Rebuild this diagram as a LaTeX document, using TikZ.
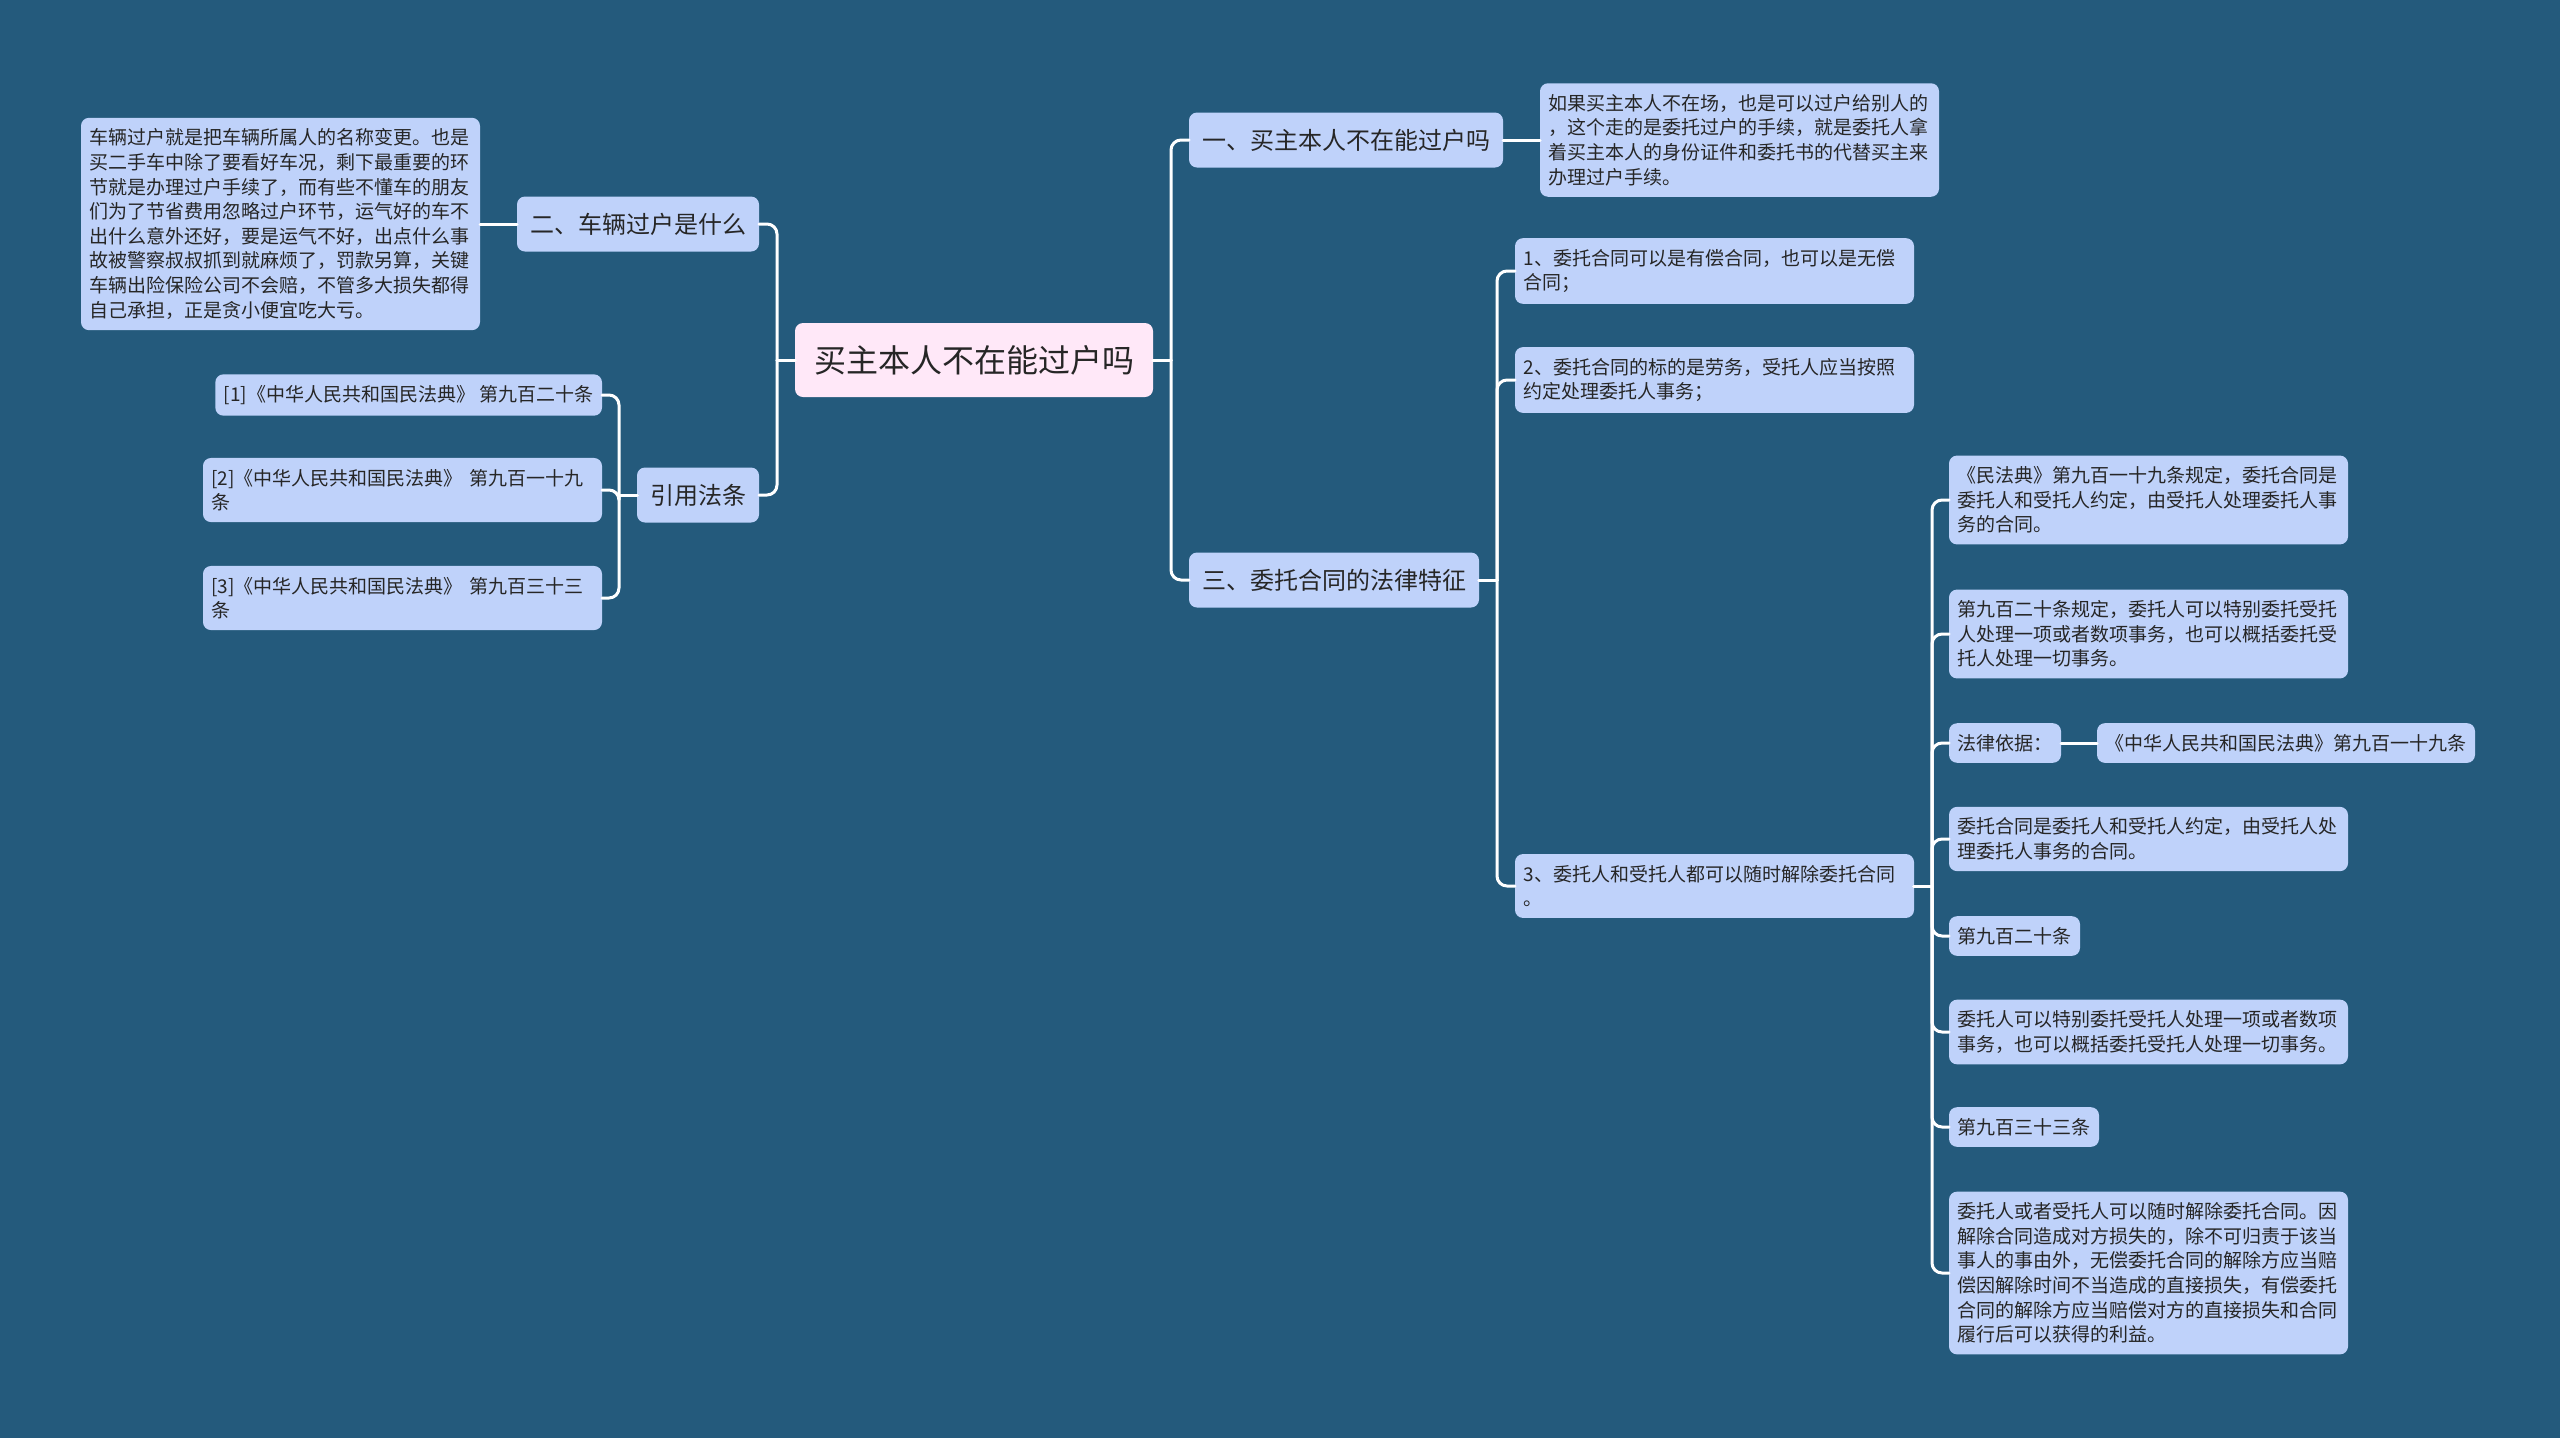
\documentclass[tikz,border=0pt]{standalone}
\usepackage{fontspec}
\setmainfont{Noto Sans CJK SC}
\usepackage{tikz}
\usetikzlibrary{positioning}
\definecolor{mmbg}{HTML}{245A7C}
\definecolor{mmfill}{HTML}{BFD2FA}
\definecolor{mmroot}{HTML}{FFE8F8}
\definecolor{mmtext}{HTML}{262626}
\tikzset{
	mm diagram/.style={
		x=.5pt, y=-.5pt,
		every node/.style={text=mmtext, rounded corners=4pt, outer sep=0pt},
		link/.style={draw=white, line width=1.5pt, line cap=round},
		},
	root/.style={fill=mmroot, font=\fontsize{16pt}{19pt}\selectfont,
		inner xsep=9.5pt, minimum height=37pt},
	topic/.style={fill=mmfill, font=\fontsize{12pt}{14pt}\selectfont,
		inner xsep=6.5pt, minimum height=27.5pt},
	leaf/.style={fill=mmfill, font=\fontsize{9.5pt}{12.3pt}\selectfont,
		inner xsep=4.25pt, inner ysep=5.5pt, align=left},
	wide leaf/.style={leaf, text width=191pt},
}
\newcommand{\mmright}[2]{%
	\draw[link] (#1.east) -- ++(18,0) coordinate (mmj);
	\draw[link, rounded corners=5pt] (mmj) |- (#2.west);}
\newcommand{\mmleft}[2]{%
	\draw[link] (#1.west) -- ++(-18,0) coordinate (mmj);
	\draw[link, rounded corners=5pt] (mmj) |- (#2.east);}

\begin{document}
\begin{tikzpicture}[mm diagram]
  \useasboundingbox (0,0) rectangle (2560,1437);
  \fill[mmbg] (-10,-10) rectangle (2570,1447);

  \node[root] (root) at (974,360) {买主本人不在能过户吗};
  \node[topic, anchor=west] (q1) at (1189,140) {一、买主本人不在能过户吗};
  \node[topic, anchor=west] (q3) at (1189,580) {三、委托合同的法律特征};
  \node[topic, anchor=east] (q2) at (759,224) {二、车辆过户是什么};
  \node[topic, anchor=east] (law) at (759,495) {引用法条};

  \node[wide leaf, anchor=west] (a1) at (1540,140) {如果买主本人不在场，也是可以过户给别人的\\，这个走的是委托过户的手续，就是委托人拿\\着买主本人的身份证件和委托书的代替买主来\\办理过户手续。};
  \node[wide leaf, anchor=east] (b1) at (480,224) {车辆过户就是把车辆所属人的名称变更。也是\\买二手车中除了要看好车况，剩下最重要的环\\节就是办理过户手续了，而有些不懂车的朋友\\们为了节省费用忽略过户环节，运气好的车不\\出什么意外还好，要是运气不好，出点什么事\\故被警察叔叔抓到就麻烦了，罚款另算，关键\\车辆出险保险公司不会赔，不管多大损失都得\\自己承担，正是贪小便宜吃大亏。};

  \node[leaf, anchor=east] (ref1) at (602,395) {[1]《中华人民共和国民法典》 第九百二十条};
  \node[wide leaf, anchor=east] (ref2) at (602,490) {[2]《中华人民共和国民法典》 第九百一十九\\条};
  \node[wide leaf, anchor=east] (ref3) at (602,598) {[3]《中华人民共和国民法典》 第九百三十三\\条};

  \node[wide leaf, anchor=west] (c1) at (1515,271) {1、委托合同可以是有偿合同，也可以是无偿\\合同；};
  \node[wide leaf, anchor=west] (c2) at (1515,380) {2、委托合同的标的是劳务，受托人应当按照\\约定处理委托人事务；};
  \node[wide leaf, anchor=west] (c3) at (1515,886) {3、委托人和受托人都可以随时解除委托合同\\。};

  \node[wide leaf, anchor=west] (d1) at (1949,500) {《民法典》第九百一十九条规定，委托合同是\\委托人和受托人约定，由受托人处理委托人事\\务的合同。};
  \node[wide leaf, anchor=west] (d2) at (1949,634) {第九百二十条规定，委托人可以特别委托受托\\人处理一项或者数项事务，也可以概括委托受\\托人处理一切事务。};
  \node[leaf, anchor=west] (d3) at (1949,743) {法律依据：};
  \node[leaf, right=18pt of d3] (d3a) {《中华人民共和国民法典》第九百一十九条};
  \node[wide leaf, anchor=west] (d4) at (1949,839) {委托合同是委托人和受托人约定，由受托人处\\理委托人事务的合同。};
  \node[leaf, anchor=west] (d5) at (1949,936) {第九百二十条};
  \node[wide leaf, anchor=west] (d6) at (1949,1032) {委托人可以特别委托受托人处理一项或者数项\\事务，也可以概括委托受托人处理一切事务。};
  \node[leaf, anchor=west] (d7) at (1949,1127) {第九百三十三条};
  \node[wide leaf, anchor=west] (d8) at (1949,1273) {委托人或者受托人可以随时解除委托合同。因\\解除合同造成对方损失的，除不可归责于该当\\事人的事由外，无偿委托合同的解除方应当赔\\偿因解除时间不当造成的直接损失，有偿委托\\合同的解除方应当赔偿对方的直接损失和合同\\履行后可以获得的利益。};

  \mmright{root}{q1}
  \mmright{root}{q3}
  \mmleft{root}{q2}
  \mmleft{root}{law}
  \draw[link] (q1.east) -- (a1.west);
  \draw[link] (q2.west) -- (b1.east);
  \foreach \r in {ref1,ref2,ref3} {\mmleft{law}{\r}}
  \foreach \c in {c1,c2,c3} {\mmright{q3}{\c}}
  \foreach \d in {d1,d2,d3,d4,d5,d6,d7,d8} {\mmright{c3}{\d}}
  \draw[link] (d3.east) -- (d3a.west);
\end{tikzpicture}
\end{document}
